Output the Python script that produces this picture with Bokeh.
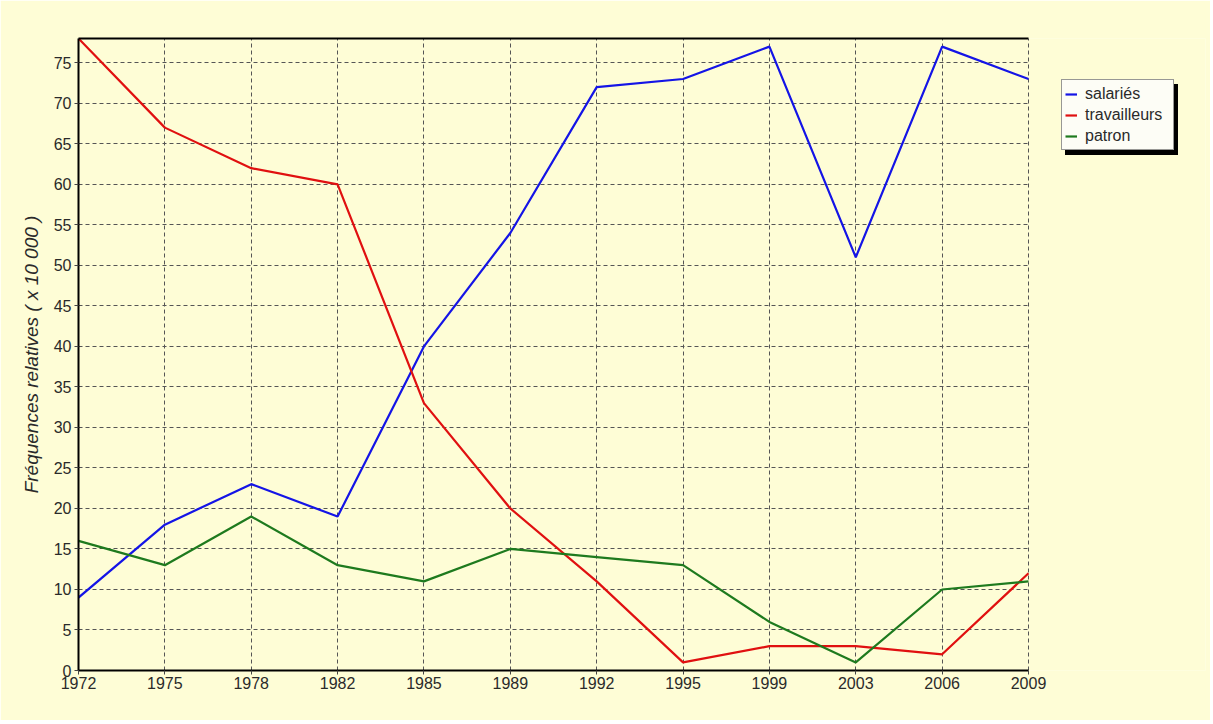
from bokeh.plotting import figure
from bokeh.models import Legend, LegendItem, LinearAxis, FixedTicker, Range1d, BoxAnnotation
from bokeh.embed import file_html
from bokeh.resources import INLINE

years = ["1972", "1975", "1978", "1982", "1985", "1989", "1992", "1995", "1999", "2003", "2006", "2009"]
salaries = [9, 18, 23, 19, 40, 54, 72, 73, 77, 51, 77, 73]
travailleurs = [78, 67, 62, 60, 33, 20, 11, 1, 3, 3, 2, 12]
patron = [16, 13, 19, 13, 11, 15, 14, 13, 6, 1, 10, 11]
y_ticks = list(range(0, 80, 5))

xs = list(range(len(years)))
last = len(years) - 1
BG = "#FEFDD6"

W, H = 1210, 720
FL, FT, FR, FB = 78, 38, 1205, 670   # frame edges in pixels
x_end = last * (FR - FL) / 950.0     # axis of 11 steps spans 950 px, extra room for legend

p = figure(width=W, height=H, output_backend="svg", toolbar_location=None,
           x_range=Range1d(0, x_end), y_range=Range1d(0, 78),
           min_border_left=FL, min_border_top=FT, min_border_right=W - FR, min_border_bottom=H - FB)
p.background_fill_color = BG
p.border_fill_color = BG
p.outline_line_color = None

FONT = "Liberation Sans"
TXT = "#2a2a2a"

p.xaxis.ticker = FixedTicker(ticks=xs)
p.xaxis.major_label_overrides = {i: y for i, y in enumerate(years)}
p.xaxis.bounds = (0, last)
p.yaxis.ticker = FixedTicker(ticks=y_ticks)
for ax in (p.xaxis[0], p.yaxis[0]):
    ax.axis_line_color = "black"
    ax.axis_line_width = 2
    ax.major_tick_out = 4
    ax.major_tick_in = 0
    ax.major_tick_line_color = "#444444"
    ax.minor_tick_line_color = None
    ax.major_label_text_font = FONT
    ax.major_label_text_font_size = "16px"
    ax.major_label_text_color = TXT
p.xaxis.major_label_standoff = 2
p.yaxis.major_label_standoff = 3
p.yaxis.axis_label = "Fréquences relatives ( x 10 000 )"
p.yaxis.axis_label_text_font = FONT
p.yaxis.axis_label_text_font_style = "italic"
p.yaxis.axis_label_text_font_size = "19px"
p.yaxis.axis_label_text_color = TXT
p.yaxis.axis_label_standoff = 9

# top frame line (no ticks, no labels)
top = LinearAxis(ticker=FixedTicker(ticks=[]), major_tick_line_color=None, minor_tick_line_color=None,
                 bounds=(0, last), axis_line_color="black", axis_line_width=2)
p.add_layout(top, "above")

for g in (p.xgrid[0], p.ygrid[0]):
    g.grid_line_color = "#555555"
    g.grid_line_dash = "4 3"
    g.grid_line_width = 1
p.xgrid.ticker = FixedTicker(ticks=xs)
p.ygrid.ticker = FixedTicker(ticks=y_ticks)

r1 = p.line(xs, salaries, line_color="#1414E6", line_width=2.2)
r2 = p.line(xs, travailleurs, line_color="#E01010", line_width=2.2)
r3 = p.line(xs, patron, line_color="#1E7A1E", line_width=2.2)

# mask the area right of the last year (holds the legend)
p.add_layout(BoxAnnotation(left=last + 0.012, fill_color=BG, fill_alpha=1, line_color=None))

LX = 1061 - FL
LB = FB - 150
labels = ["salariés", "travailleurs", "patron"]
common = dict(label_text_font_size="16px", glyph_width=12, glyph_height=14,
              label_standoff=8, label_width=85, padding=3, spacing=0, label_height=21, margin=0)

# drop shadow behind the legend box
d1 = p.line([0], [0], line_color="black", line_width=2, line_alpha=0)
shadow = Legend(items=[LegendItem(label=" ", renderers=[d1]) for _ in labels],
                location=(LX + 4, LB - 5), background_fill_color="black", background_fill_alpha=1,
                border_line_color="black", label_text_color="black", label_text_font=FONT, **common)
p.add_layout(shadow)

legend = Legend(items=[LegendItem(label=l, renderers=[r]) for l, r in zip(labels, [r1, r2, r3])],
                location=(LX, LB), background_fill_color="#FDFDF6", background_fill_alpha=1,
                border_line_color="#333333", border_line_width=1, label_text_color=TXT,
                label_text_font=FONT, **common)
p.add_layout(legend)

open("out.html", "w").write(file_html(p, INLINE))
